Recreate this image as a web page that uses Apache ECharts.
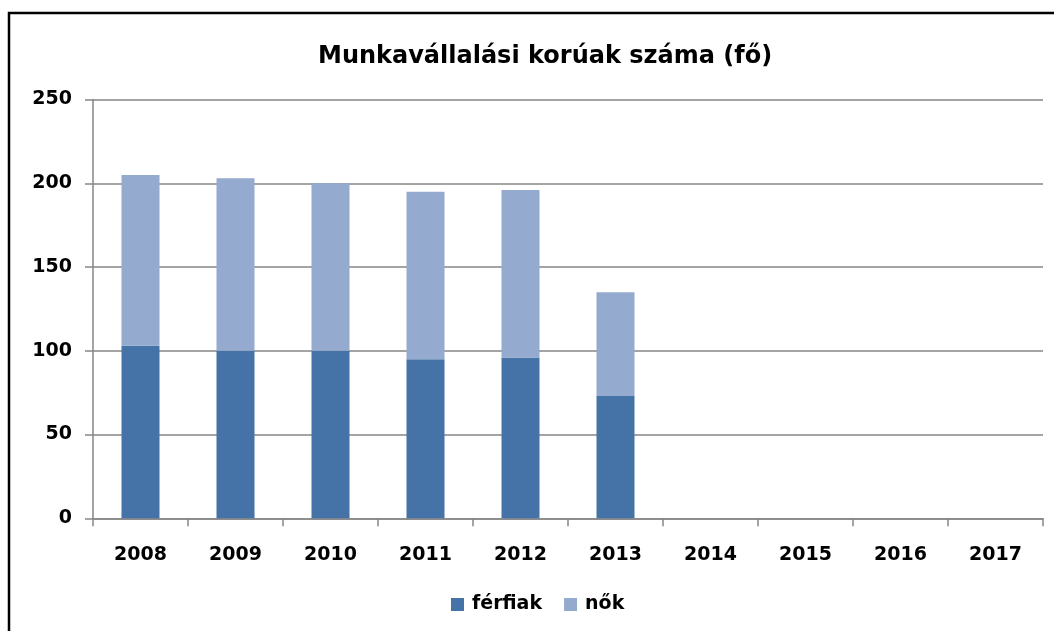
<!DOCTYPE html>
<html>
<head>
<meta charset="utf-8">
<script src="https://cdn.jsdelivr.net/npm/echarts@6/dist/echarts.min.js"></script>
<style>
html,body{margin:0;padding:0;background:#fff;}
#chart{width:1054px;height:631px;}
</style>
</head>
<body>
<div id="chart"></div>
<script>
const categories = ['2008','2009','2010','2011','2012','2013','2014','2015','2016','2017'];
const ferfiak = [103, 100, 100, 95, 96, 73, null, null, null, null];
const nok = [102, 103, 100, 100, 100, 62, null, null, null, null];
const yTicks = [0, 50, 100, 150, 200, 250];
const titleText = 'Munkavállalási korúak száma (fő)';
const seriesNames = ['férfiak', 'nők'];

const font = 'DejaVu Sans';
const chart = echarts.init(document.getElementById('chart'));
chart.setOption({
  animation: false,
  backgroundColor: '#ffffff',
  title: {
    text: titleText,
    left: 313,
    top: 40,
    textStyle: {fontFamily: font, fontWeight: 'bold', fontSize: 24, color: '#000'}
  },
  graphic: [{
    type: 'rect',
    shape: {x: 9, y: 13, width: 1100, height: 700},
    style: {fill: 'none', stroke: '#000', lineWidth: 2.5},
    silent: true
  }],
  legend: {
    data: seriesNames,
    bottom: 12,
    left: 446,
    itemWidth: 13,
    itemHeight: 13,
    itemGap: 22,
    icon: 'rect',
    textStyle: {fontFamily: font, fontWeight: 'bold', fontSize: 19, color: '#000', padding: [0,0,0,3]}
  },
  grid: {left: 93, right: 11, top: 99.5, bottom: 112.7, containLabel: false},
  xAxis: {
    type: 'category',
    data: categories,
    boundaryGap: true,
    axisLine: {lineStyle: {color: '#868686', width: 1.5}},
    axisTick: {show: true, alignWithLabel: false, length: 8, lineStyle: {color: '#868686', width: 1.5}},
    axisLabel: {fontFamily: font, fontWeight: 'bold', fontSize: 19, color: '#000', margin: 27}
  },
  yAxis: {
    type: 'value',
    min: yTicks[0],
    max: yTicks[yTicks.length - 1],
    interval: 50,
    axisLine: {show: true, lineStyle: {color: '#868686', width: 1.5}},
    axisTick: {show: true, length: 8, lineStyle: {color: '#868686', width: 1.5}},
    splitLine: {lineStyle: {color: '#868686', width: 1.5}},
    axisLabel: {fontFamily: font, fontWeight: 'bold', fontSize: 19, color: '#000', margin: 21}
  },
  series: [
    {
      name: seriesNames[0], type: 'bar', stack: 'a', data: ferfiak, barWidth: '40%',
      itemStyle: {color: '#4572A7'}
    },
    {
      name: seriesNames[1], type: 'bar', stack: 'a', data: nok, barWidth: '40%',
      itemStyle: {color: '#95AACF'}
    }
  ]
});
</script>
</body>
</html>
